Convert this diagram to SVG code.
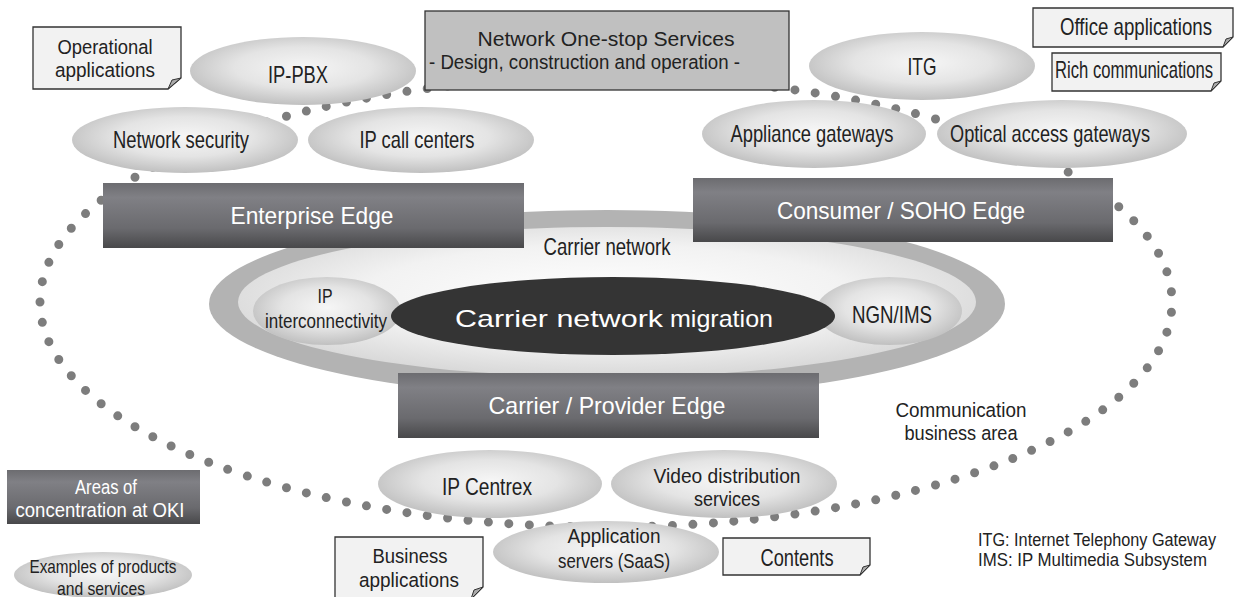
<svg xmlns="http://www.w3.org/2000/svg" width="1237" height="597" viewBox="0 0 1237 597">
<style>
text{font-family:"Liberation Sans Narrow","Liberation Sans","Arial Narrow",sans-serif;font-size:24px;fill:#222;text-anchor:middle}
.w{fill:#fff}
.sm{font-size:17.5px}
.xs{font-size:19px}
.two{font-size:20.5px}
.end{text-anchor:end}
.note{fill:#f2f2f2;stroke:#333;stroke-width:1.3}
.flap{fill:#aaa;stroke:#333;stroke-width:1}
.bub{fill:url(#bub)}
.edge{fill:url(#edge)}
.dots{fill:none;stroke:#7d7d7d;stroke-width:9;stroke-linecap:round;stroke-dasharray:0 1}
</style>
<defs>
<radialGradient id="bub" cx="0.5" cy="0.45" r="0.55">
<stop offset="0" stop-color="#f6f6f6"/>
<stop offset="0.55" stop-color="#e4e4e4"/>
<stop offset="1" stop-color="#c0c0c0"/>
</radialGradient>
<radialGradient id="inner" cx="0.5" cy="0.45" r="0.55">
<stop offset="0" stop-color="#ffffff"/>
<stop offset="0.6" stop-color="#f2f2f2"/>
<stop offset="1" stop-color="#d8d8d8"/>
</radialGradient>
<linearGradient id="edge" x1="0" y1="0" x2="0" y2="1">
<stop offset="0" stop-color="#6c6c70"/>
<stop offset="0.22" stop-color="#808085"/>
<stop offset="0.7" stop-color="#6a6a6e"/>
<stop offset="1" stop-color="#48484a"/>
</linearGradient>
</defs>
<rect width="1237" height="597" fill="#fff"/>

<g id="connectors">
<path class="dots" pathLength="127" d="M40,302 A566,225 0 1 1 1172,302 A566,225 0 1 1 40,302 Z"/>
</g>

<g id="carrier-network">
<ellipse cx="607" cy="304" rx="398" ry="94" fill="#b3b3b3"/>
<ellipse cx="607" cy="302" rx="369" ry="75" fill="url(#inner)"/>
<text x="607" y="255" textLength="127" lengthAdjust="spacingAndGlyphs">Carrier network</text>
</g>

<g id="op-apps">
<path class="note" d="M33,27 H181 V78 L168,89 H33 Z"/>
<path class="flap" d="M181,78 L168,89 L172,80 Z"/>
<text class="two" x="105" y="54" textLength="95" lengthAdjust="spacingAndGlyphs">Operational</text>
<text class="two" x="105" y="77" textLength="100" lengthAdjust="spacingAndGlyphs">applications</text>
</g>

<g id="ip-pbx">
<ellipse class="bub" cx="303" cy="71" rx="113" ry="34"/>
<text x="298" y="83" textLength="60" lengthAdjust="spacingAndGlyphs">IP-PBX</text>
</g>

<g id="network-security">
<ellipse class="bub" cx="185" cy="140" rx="113" ry="33"/>
<text x="181" y="148" textLength="136" lengthAdjust="spacingAndGlyphs">Network security</text>
</g>

<g id="ip-call-centers">
<ellipse class="bub" cx="421" cy="140" rx="113" ry="33"/>
<text x="417" y="148" textLength="115" lengthAdjust="spacingAndGlyphs">IP call centers</text>
</g>

<g id="one-stop">
<rect x="425" y="11" width="364" height="79" fill="#c0c0c0" stroke="#333" stroke-width="1.3"/>
<text class="two" x="606" y="46" textLength="257" lengthAdjust="spacingAndGlyphs">Network One-stop Services</text>
<text class="two" x="584.5" y="69" textLength="311" lengthAdjust="spacingAndGlyphs">- Design, construction and operation -</text>
</g>

<g id="itg">
<ellipse class="bub" cx="922" cy="66" rx="113" ry="34"/>
<text x="922" y="75" textLength="29" lengthAdjust="spacingAndGlyphs">ITG</text>
</g>

<g id="office-apps">
<path class="note" d="M1033,8 H1233 V37 L1223,47 H1033 Z"/>
<path class="flap" d="M1233,37 L1223,47 L1226,39 Z"/>
<text class="end" x="1212" y="35" font-size="23" textLength="152" lengthAdjust="spacingAndGlyphs">Office applications</text>
</g>

<g id="rich-comms">
<path class="note" d="M1052,53 H1221 V81 L1211,91 H1052 Z"/>
<path class="flap" d="M1221,81 L1211,91 L1214,83 Z"/>
<text class="end" x="1213" y="78" font-size="20.5" textLength="158" lengthAdjust="spacingAndGlyphs">Rich communications</text>
</g>

<g id="appliance-gw">
<ellipse class="bub" cx="814" cy="134" rx="112" ry="34"/>
<text x="812" y="142" textLength="163" lengthAdjust="spacingAndGlyphs">Appliance gateways</text>
</g>

<g id="optical-gw">
<ellipse class="bub" cx="1062" cy="134" rx="125" ry="34"/>
<text x="1050" y="142" textLength="200" lengthAdjust="spacingAndGlyphs">Optical access gateways</text>
</g>

<g id="enterprise-edge">
<rect class="edge" x="103" y="183" width="421" height="65"/>
<text class="w" x="312" y="224" font-size="26" textLength="163" lengthAdjust="spacingAndGlyphs">Enterprise Edge</text>
</g>

<g id="consumer-edge">
<rect class="edge" x="693" y="178" width="420" height="64"/>
<text class="w" x="901" y="219" font-size="26" textLength="248" lengthAdjust="spacingAndGlyphs">Consumer / SOHO Edge</text>
</g>

<g id="ip-interconnect">
<ellipse class="bub" cx="327" cy="311" rx="74" ry="34"/>
<text class="two" x="325" y="303" textLength="15" lengthAdjust="spacingAndGlyphs">IP</text>
<text class="two" x="326" y="328" textLength="122" lengthAdjust="spacingAndGlyphs">interconnectivity</text>
</g>

<g id="ngn-ims">
<ellipse class="bub" cx="889" cy="311" rx="73" ry="34"/>
<text x="892" y="323" textLength="80" lengthAdjust="spacingAndGlyphs">NGN/IMS</text>
</g>

<g id="migration">
<ellipse cx="613" cy="316" rx="222" ry="39" fill="#343434"/>
<text class="w" x="455" y="327" style="text-anchor:start;font-family:'Liberation Sans',Arial,sans-serif" font-size="24" textLength="208" lengthAdjust="spacingAndGlyphs">Carrier network</text>
<text class="w" x="670" y="327" style="text-anchor:start" font-size="25" textLength="103" lengthAdjust="spacingAndGlyphs">migration</text>
</g>

<g id="provider-edge">
<rect class="edge" x="398" y="373" width="421" height="65"/>
<text class="w" x="607" y="414" font-size="26" textLength="237" lengthAdjust="spacingAndGlyphs">Carrier / Provider Edge</text>
</g>

<g id="comm-area">
<text class="two" x="961" y="417" textLength="131" lengthAdjust="spacingAndGlyphs">Communication</text>
<text class="two" x="961" y="440" textLength="113" lengthAdjust="spacingAndGlyphs">business area</text>
</g>

<g id="ip-centrex">
<ellipse class="bub" cx="490" cy="484" rx="112" ry="34"/>
<text x="487" y="495" textLength="90" lengthAdjust="spacingAndGlyphs">IP Centrex</text>
</g>

<g id="video">
<ellipse class="bub" cx="724" cy="484" rx="113" ry="34"/>
<text class="two" x="727" y="483" textLength="147" lengthAdjust="spacingAndGlyphs">Video distribution</text>
<text class="two" x="727" y="506" textLength="66" lengthAdjust="spacingAndGlyphs">services</text>
</g>

<g id="business-apps">
<path class="note" d="M335,537 H483 V587 L471,599 H335 Z"/>
<path class="flap" d="M483,587 L471,599 L474,590 Z"/>
<text class="two" x="410" y="563" textLength="75" lengthAdjust="spacingAndGlyphs">Business</text>
<text class="two" x="409" y="587" textLength="100" lengthAdjust="spacingAndGlyphs">applications</text>
</g>

<g id="app-servers">
<ellipse class="bub" cx="606" cy="552" rx="113" ry="31"/>
<text class="two" x="614" y="543" textLength="93" lengthAdjust="spacingAndGlyphs">Application</text>
<text class="two" x="614" y="568" textLength="112" lengthAdjust="spacingAndGlyphs">servers (SaaS)</text>
</g>

<g id="contents">
<path class="note" d="M723,538 H870 V565 L860,575 H723 Z"/>
<path class="flap" d="M870,565 L860,575 L863,567 Z"/>
<text x="797" y="566" textLength="73" lengthAdjust="spacingAndGlyphs">Contents</text>
</g>

<g id="legend-areas">
<rect class="edge" x="7" y="470" width="193" height="54"/>
<text class="w two" x="106" y="494" textLength="62" lengthAdjust="spacingAndGlyphs">Areas of</text>
<text class="w two" x="100" y="517" textLength="169" lengthAdjust="spacingAndGlyphs">concentration at OKI</text>
</g>

<g id="legend-examples">
<ellipse class="bub" cx="103" cy="575" rx="89" ry="23"/>
<text class="xs" x="103" y="573" textLength="147" lengthAdjust="spacingAndGlyphs">Examples of products</text>
<text class="xs" x="101" y="595" textLength="88" lengthAdjust="spacingAndGlyphs">and services</text>
</g>

<g id="abbrev">
<text class="sm" x="978" y="546" style="text-anchor:start" textLength="238" lengthAdjust="spacingAndGlyphs">ITG: Internet Telephony Gateway</text>
<text class="sm" x="978" y="566" style="text-anchor:start" textLength="229" lengthAdjust="spacingAndGlyphs">IMS: IP Multimedia Subsystem</text>
</g>
</svg>
